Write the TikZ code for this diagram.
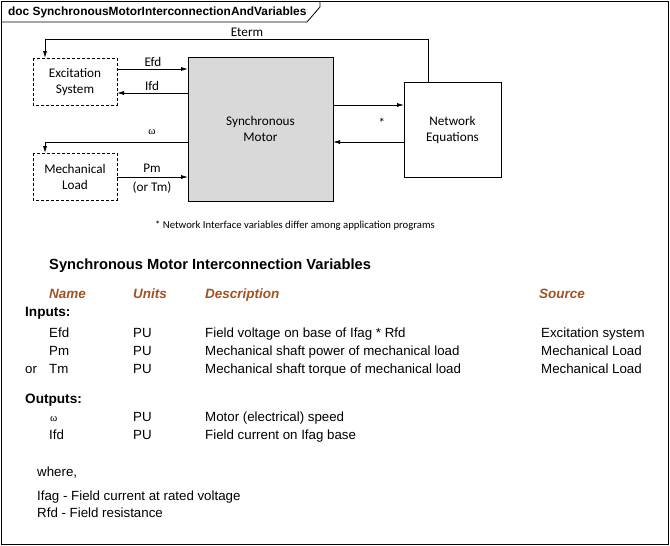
\documentclass[tikz,border=0pt]{standalone}
\usepackage{fontspec}
\setmainfont{Liberation Sans}
\newfontfamily\carlitofont{Carlito}
\newfontfamily\greekserif{Liberation Serif}
\usetikzlibrary{arrows.meta}
\definecolor{hdrbrown}{RGB}{160,82,35}
\definecolor{motorgray}{RGB}{217,217,217}
\tikzset{
  dashblk/.style={draw, thick, dashed, dash pattern=on 3pt off 2pt},
  conn/.style={thick, -{Latex[length=7pt,width=4pt]}},
  dlabel/.style={font=\carlitofont\fontsize{13.2}{15}\selectfont, inner sep=0pt},
  ttext/.style={font=\fontsize{13.3}{15}\selectfont, anchor=base west, inner sep=0pt},
  thdr/.style={font=\fontsize{13.5}{15}\selectfont\bfseries\itshape, text=hdrbrown, anchor=base west, inner sep=0pt},
  tbold/.style={font=\fontsize{13.6}{15}\selectfont\bfseries, anchor=base west, inner sep=0pt}
}
\begin{document}
\begin{tikzpicture}[x=1pt,y=-1pt]
\useasboundingbox (0,0) rectangle (670,546);
% frame
\draw[thick] (1,1) rectangle (668,544);
\draw[thick] (1,22) -- (307,22) -- (320,7) -- (320,1);
\node[anchor=base west, inner sep=0pt, font=\fontsize{11.9}{13}\selectfont\bfseries] (title) at (8,16) {doc SynchronousMotorInterconnectionAndVariables};

% blocks
\draw[dashblk] (33,58) rectangle (117,105);
\node[dlabel, align=center] (exc) at (75,81.5) {Excitation\\[1pt]System};
\coordinate (excN) at (45,58);
\draw[dashblk] (33,153) rectangle (117,200);
\node[dlabel, align=center] (mech) at (75,176.5) {Mechanical\\[1pt]Load};
\coordinate (mechN) at (45,153);
\draw[thick, fill=motorgray] (188,57) rectangle (333,201);
\node[dlabel, align=center] (mot) at (260.5,129) {Synchronous\\[1pt]Motor};
\draw[thick] (404,82) rectangle (501,177);
\node[dlabel, align=center] (net) at (452.5,129.5) {Network\\[1pt]Equations};

% coordinates on block edges
\coordinate (netTop) at (428,82);
\coordinate (e1) at (117,69);  \coordinate (m1) at (188,69);
\coordinate (e2) at (117,93);  \coordinate (m2) at (188,93);
\coordinate (m3) at (188,142);
\coordinate (k1) at (117,177); \coordinate (m4) at (188,177);
\coordinate (m5) at (333,105); \coordinate (n5) at (404,105);
\coordinate (m6) at (333,142); \coordinate (n6) at (404,142);

% connectors
\draw[conn] (netTop) -- (428,39) -- (45,39) -- (excN);
\draw[conn] (e1) -- (m1);
\draw[conn] (m2) -- (e2);
\draw[conn] (m3) -- (45,142) -- (mechN);
\draw[conn] (k1) -- (m4);
\draw[conn] (m5) -- (n5);
\draw[conn] (n6) -- (m6);

% connector labels
\node[dlabel] (leterm) at (247,32) {Eterm};
\node[dlabel] (lefd) at (153,62) {Efd};
\node[dlabel] (lifd) at (152,86) {Ifd};
\node[inner sep=0pt, font=\greekserif\fontsize{11}{12}\selectfont] (lw) at (152,132) {ω};
\node[dlabel] (lpm) at (152,168.5) {Pm};
\node[dlabel] (ltm) at (152,188) {(or Tm)};
\node[dlabel] (lstar) at (382,123) {*};
\node[font=\carlitofont\fontsize{10.7}{12}\selectfont, inner sep=0pt, anchor=west] (note) at (155,226) {* Network Interface variables differ among application programs};

% table
\node[anchor=base west, inner sep=0pt, font=\fontsize{14.7}{16}\selectfont\bfseries] (thead) at (49,269) {Synchronous Motor Interconnection Variables};
\node[thdr] (hn) at (49,298) {Name};
\node[thdr] (hu) at (133,298) {Units};
\node[thdr] (hd) at (205,298) {Description};
\node[thdr] (hs) at (539,298) {Source};
\node[tbold] (inp) at (25,316) {Inputs:};
\node[ttext] (r1n) at (49,337) {Efd};
\node[ttext] (r1u) at (133,337) {PU};
\node[ttext] (r1d) at (205,337) {Field voltage on base of Ifag * Rfd};
\node[ttext] (r1s) at (541,337) {Excitation system};
\node[ttext] (r2n) at (49,355) {Pm};
\node[ttext] (r2u) at (133,355) {PU};
\node[ttext] (r2d) at (205,355) {Mechanical shaft power of mechanical load};
\node[ttext] (r2s) at (541,355) {Mechanical Load};
\node[ttext] (r3o) at (25,373) {or};
\node[ttext] (r3n) at (49,373) {Tm};
\node[ttext] (r3u) at (133,373) {PU};
\node[ttext] (r3d) at (205,373) {Mechanical shaft torque of mechanical load};
\node[ttext] (r3s) at (541,373) {Mechanical Load};
\node[tbold] (outp) at (25,403) {Outputs:};
\node[ttext, font=\greekserif\fontsize{11}{12}\selectfont] (o1n) at (50,421) {ω};
\node[ttext] (o1u) at (133,421) {PU};
\node[ttext] (o1d) at (205,421) {Motor (electrical) speed};
\node[ttext] (o2n) at (49,439) {Ifd};
\node[ttext] (o2u) at (133,439) {PU};
\node[ttext] (o2d) at (205,439) {Field current on Ifag base};
\node[ttext] (wh) at (37,476) {where,};
\node[ttext] (w1) at (37,500) {Ifag - Field current at rated voltage};
\node[ttext] (w2) at (37,517) {Rfd - Field resistance};
\end{tikzpicture}
\end{document}
